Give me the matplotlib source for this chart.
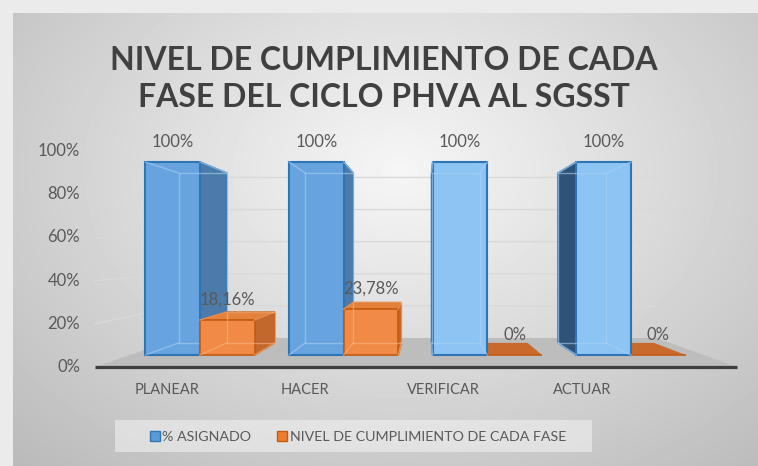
import numpy as np
import matplotlib
matplotlib.use('Agg')
import matplotlib.pyplot as plt
from matplotlib.patches import Polygon, Patch, Rectangle

categories = ['PLANEAR', 'HACER', 'VERIFICAR', 'ACTUAR']
asignado = [100, 100, 100, 100]
cumplimiento = [18.16, 23.78, 0, 0]
series_names = ['% ASIGNADO', 'NIVEL DE CUMPLIMIENTO DE CADA FASE']
y_ticks = [0, 20, 40, 60, 80, 100]
title = 'NIVEL DE CUMPLIMIENTO DE CADA\nFASE DEL CICLO PHVA AL SGSST'

W, H = 758, 466
plt.rcParams['font.family'] = ['Lato', 'DejaVu Sans']

fig = plt.figure(figsize=(W / 100, H / 100), dpi=100)
fig.patch.set_facecolor('#ebebeb')

# radial gray gradient of the chart area
bg = fig.add_axes([13 / W, 0, 1 - 13 / W, 1 - 13 / H])
yy, xx = np.mgrid[13:H, 13:W]
r = np.sqrt(((xx - 400) / 500) ** 2 + ((yy - 170) / 360) ** 2)
shade = np.clip(0.965 - 0.21 * r, 0, 1)
bg.imshow(shade, cmap='gray', vmin=0, vmax=1, aspect='auto', extent=(0, 1, 0, 1))
bg.axis('off')

# main axes: x in category units, y in percent (front plane of the bars)
ax = fig.add_axes([0, 0, 1, 1])
ax.set_facecolor('none')
px_x, px_y = 143.67, 1.93
ax.set_xlim(-200 / px_x, (W - 200) / px_x)
ax.set_ylim((355 - H) / px_y, 355 / px_y)
ax.axis('off')

# simple perspective: points move towards a vanishing point with depth scale s
vx, vy = (423 - 200) / px_x, (355 - 254) / px_y
S_BACK, FLOOR_FRONT, FLOOR_BACK = 0.88, 1.119, 0.832
xl, xr = -0.487, 3.505


def proj(x, v, s):
    return vx + s * (x - vx), vy + s * (v - vy)


# floor, walls, gridlines
floor = [proj(xl, 0, FLOOR_FRONT), proj(xr, 0, FLOOR_FRONT),
         proj(xr, 0, FLOOR_BACK), proj(xl, 0, FLOOR_BACK)]
ax.add_patch(Polygon(floor, closed=True, facecolor='#bdbdbd', edgecolor='none', zorder=0.5))
p0, p1 = proj(xl, 0, FLOOR_FRONT), proj(xr, 0, FLOOR_FRONT)
ax.plot([p0[0], p1[0]], [p0[1], p1[1]], color='#3f3f3f', lw=2.3, zorder=1, solid_capstyle='butt')
for t in y_ticks:
    a, b, c = proj(xl, t, FLOOR_FRONT), proj(xl, t, FLOOR_BACK), proj(xr, t, FLOOR_BACK)
    if t > 0:
        ax.plot([a[0], b[0], c[0]], [a[1], b[1], c[1]], color='#d9d9d9', lw=1, zorder=0.4)
    ax.text(a[0] - 15 / px_x, a[1], f'{t}%', ha='right', va='center',
            fontsize=12, color='#595959')

# bars
w = 0.38
cats = np.arange(len(categories))
blue_bars = ax.bar(cats - w, asignado, w, align='edge', color='#67a3df',
                   edgecolor='#2e75b6', linewidth=1.5)
orange_bars = ax.bar(cats, cumplimiento, w, align='edge', color='#f08a46',
                     edgecolor='#c55a11', linewidth=1.2)

styles = {
    'blue': dict(front_l='#67a3df', front_r='#8cc4f4', side_r='#4c7aa9', side_l='#2f5377',
                 top='#7db3e6', edge='#2e75b6', hidden='#a9d0f2'),
    'orange': dict(front_l='#f08a46', front_r='#f08a46', side_r='#c2672d', side_l='#c2672d',
                   top='#e4823c', edge='#c55a11', hidden='#f6b585'),
}


def fmt(v):
    if float(v).is_integer():
        return f'{int(v)}%'
    return f'{v:.2f}%'.replace('.', ',')


def draw_box(patch, v, st, z):
    x0 = patch.get_x()
    x1 = x0 + patch.get_width()
    F = lambda x, y: proj(x, y, 1.0)
    B = lambda x, y: proj(x, y, S_BACK)
    if x1 < vx:
        ax.add_patch(Polygon([F(x1, 0), F(x1, v), B(x1, v), B(x1, 0)], closed=True,
                             facecolor=st['side_r'], edgecolor=st['edge'], lw=1.2, zorder=z))
    elif x0 > vx:
        ax.add_patch(Polygon([F(x0, 0), F(x0, v), B(x0, v), B(x0, 0)], closed=True,
                             facecolor=st['side_l'], edgecolor=st['edge'], lw=1.2, zorder=z))
    if v < vy:
        top_col = st['top'] if v > 0 else '#c9692c'
        ax.add_patch(Polygon([F(x0, v), F(x1, v), B(x1, v), B(x0, v)], closed=True,
                             facecolor=top_col, edgecolor=st['edge'] if v > 0 else 'none',
                             lw=1, zorder=z + 0.1))
    patch.set_facecolor(st['front_l'] if (x0 + x1) / 2 < vx else st['front_r'])
    patch.set_zorder(z + 0.2)
    if v > 0:
        back = [B(x0, 0), B(x1, 0), B(x1, v), B(x0, v), B(x0, 0)]
        bx, by = zip(*back)
        ax.plot(bx, by, color=st['hidden'], lw=1, alpha=0.6, zorder=z + 0.3)
        for xx_, yy_ in [(x0, 0), (x1, 0), (x1, v), (x0, v)]:
            f, b = F(xx_, yy_), B(xx_, yy_)
            ax.plot([f[0], b[0]], [f[1], b[1]], color=st['hidden'], lw=1, alpha=0.6, zorder=z + 0.3)


z = 2
for i in cats:
    pair = [(blue_bars[i], asignado[i], styles['blue']),
            (orange_bars[i], cumplimiento[i], styles['orange'])]
    # farthest from the vanishing point first
    pair.sort(key=lambda p: -abs(p[0].get_x() + p[0].get_width() / 2 - vx))
    for patch, v, st in pair:
        draw_box(patch, v, st, z)
        z += 1

for bars, vals in [(blue_bars, asignado), (orange_bars, cumplimiento)]:
    for patch, v in zip(bars, vals):
        ax.annotate(fmt(v), (patch.get_x() + patch.get_width() / 2, v),
                    xytext=(0, 14.5), textcoords='offset points', ha='center', va='center',
                    fontsize=12, color='#595959', zorder=50)

# category labels along the front of the floor
label_x = cats * 0.9626 - 0.23
for x, name in zip(label_x, categories):
    ax.text(x, (355 - 390) / px_y, name, ha='center', va='center', fontsize=10.5, color='#595959')

# legend
fig.patches.append(Rectangle((115 / W, 1 - 452 / H), 477 / W, 32 / H, transform=fig.transFigure,
                             facecolor='#f4f4f4', alpha=0.55, edgecolor='none', zorder=5))
handles = [Patch(facecolor='#5b9bd5', edgecolor='#2e75b6'),
           Patch(facecolor='#ed7d31', edgecolor='#c55a11')]
leg = fig.legend(handles, series_names, loc='center', bbox_to_anchor=(358 / W, 1 - 437 / H),
                 ncol=2, frameon=False, fontsize=10.3, handlelength=0.7, handleheight=0.7,
                 handletextpad=0.2, columnspacing=1.8)
for txt in leg.get_texts():
    txt.set_color('#595959')

fig.text(384 / W, 1 - 79 / H, title, ha='center', va='center', fontsize=23,
         fontweight='bold', color='#404040', linespacing=1.3)

fig.savefig('out.png', dpi=100, facecolor=fig.get_facecolor())
